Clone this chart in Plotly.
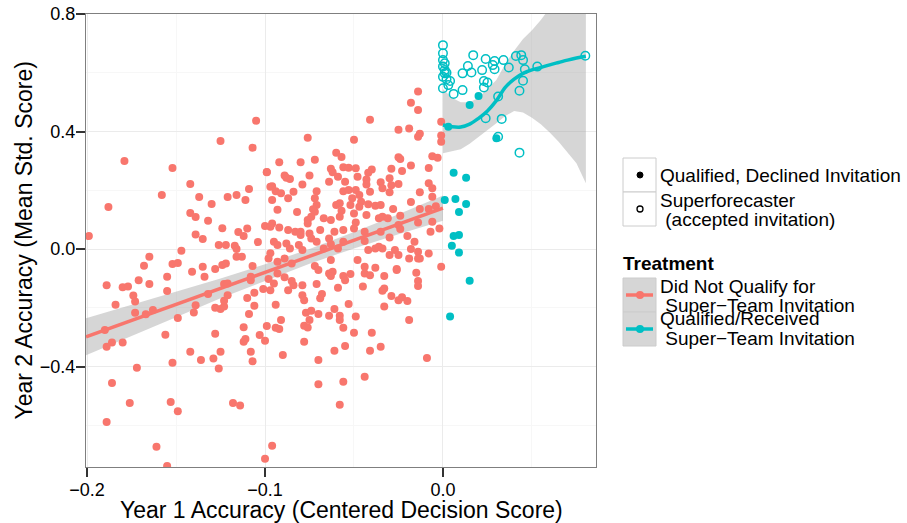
import plotly.graph_objects as go

# ---------------- data ----------------
red_x = [
 -0.105,-0.125,-0.107,-0.179,-0.152,-0.099,-0.142,-0.097,-0.158,-0.137,-0.121,-0.116,-0.109,-0.111,-0.188,-0.130,
 -0.142,-0.139,-0.132,-0.124,-0.115,-0.112,-0.110,-0.100,-0.139,-0.135,-0.199,-0.126,-0.122,-0.117,-0.116,-0.147,
 -0.116,-0.113,-0.165,-0.168,-0.152,-0.149,-0.135,-0.141,-0.128,-0.124,-0.122,-0.107,-0.097,-0.104,
 -0.014,-0.018,-0.014,-0.041,-0.025,-0.019,-0.013,-0.014,-0.001,-0.001,-0.001,-0.076,-0.050,-0.060,-0.057,-0.072,
 -0.092,-0.080,-0.025,-0.024,-0.018,-0.006,-0.003,-0.008,-0.056,-0.053,-0.049,-0.063,-0.062,-0.040,-0.042,-0.029,
 -0.023,-0.099,-0.089,-0.086,-0.088,-0.075,-0.059,-0.055,-0.048,-0.043,-0.043,-0.030,-0.064,-0.079,-0.035,-0.034,
 -0.025,-0.008,-0.096,-0.094,-0.091,-0.096,-0.087,-0.084,-0.071,-0.056,-0.053,-0.049,-0.047,-0.041,-0.030,-0.029,
 -0.013,-0.006,-0.018,-0.072,-0.071,-0.072,-0.060,-0.058,-0.057,-0.051,-0.052,-0.050,-0.046,-0.047,-0.042,-0.038,
 -0.035,-0.093,-0.082,-0.073,-0.074,-0.067,-0.063,-0.058,-0.049,-0.043,-0.036,-0.034,-0.031,-0.028,-0.024,-0.013,
 -0.008,-0.004,-0.076,-0.076,-0.096,-0.097,-0.092,-0.087,-0.083,-0.080,-0.080,-0.075,-0.069,-0.061,-0.056,-0.050,
 -0.044,-0.035,-0.025,-0.024,-0.014,-0.006,-0.020,-0.030,-0.016,-0.002,-0.095,-0.093,-0.088,-0.086,-0.081,-0.079,
 -0.074,-0.071,-0.067,-0.064,-0.063,-0.059,-0.056,-0.044,-0.042,-0.038,-0.036,-0.034,-0.030,-0.027,-0.025,-0.018,
 -0.014,-0.013,-0.008,-0.001,-0.098,-0.093,-0.089,-0.085,-0.072,-0.063,-0.062,-0.048,-0.044,-0.038,-0.026,-0.019,
 -0.014,-0.007,-0.006,
 -0.189,-0.180,-0.177,-0.171,-0.165,-0.155,-0.155,-0.174,-0.173,-0.184,-0.173,-0.167,-0.163,-0.190,-0.186,-0.189,
 -0.180,-0.149,-0.156,-0.172,-0.152,-0.186,-0.176,-0.189,-0.161,-0.155,-0.153,-0.149,-0.142,-0.136,-0.129,-0.125,
 -0.126,-0.128,-0.140,-0.139,-0.134,-0.132,-0.128,-0.125,-0.123,-0.123,-0.121,-0.123,-0.121,-0.110,-0.106,-0.106,
 -0.109,-0.108,-0.108,-0.101,-0.112,-0.112,-0.111,-0.103,-0.100,-0.108,-0.107,-0.118,-0.114,-0.100,-0.096,-0.099,
 -0.058,-0.070,-0.056,-0.044,-0.009,-0.070,-0.090,-0.078,-0.061,-0.055,-0.041,-0.035,-0.040,-0.050,-0.056,-0.094,
 -0.092,-0.091,-0.094,-0.078,-0.076,-0.077,-0.074,-0.070,-0.075,-0.064,-0.061,-0.058,-0.058,-0.049,-0.053,-0.079,
 -0.078,-0.069,-0.068,-0.071,-0.059,-0.045,-0.087,-0.084,-0.085,-0.079,-0.097,-0.098,-0.095,-0.093,-0.089,-0.064,
 -0.063,-0.056,-0.052,-0.055,-0.044,-0.041,-0.033,-0.034,-0.033,-0.029,-0.025,-0.023,-0.020,-0.033,-0.019,-0.015,
 -0.014,-0.014,-0.026,-0.070
]
red_y = [
 0.437,0.368,0.345,0.300,0.276,0.262,0.221,0.212,0.184,0.177,0.177,0.184,0.204,0.167,0.143,0.153,
 0.123,0.109,0.096,0.071,0.058,0.044,0.070,0.078,0.049,0.034,0.044,0.014,0.014,0.011,0.000,-0.006,
 -0.026,-0.026,-0.026,-0.057,-0.051,-0.048,-0.060,-0.077,-0.068,-0.054,-0.049,-0.058,-0.014,0.024,
 0.536,0.498,0.473,0.440,0.406,0.410,0.392,0.382,0.433,0.386,0.365,0.379,0.372,0.328,0.313,0.304,
 0.295,0.295,0.312,0.306,0.284,0.316,0.311,0.276,0.278,0.277,0.275,0.273,0.261,0.271,0.260,0.273,
 0.266,0.261,0.250,0.238,0.243,0.250,0.246,0.229,0.246,0.237,0.220,0.241,0.229,0.220,0.227,0.207,
 0.221,0.224,0.214,0.197,0.190,0.167,0.173,0.195,0.197,0.197,0.201,0.201,0.184,0.195,0.193,0.217,
 0.193,0.207,0.160,0.173,0.150,0.127,0.150,0.156,0.130,0.173,0.150,0.121,0.161,0.144,0.152,0.147,
 0.150,0.134,0.126,0.135,0.110,0.105,0.099,0.110,0.090,0.116,0.105,0.110,0.105,0.136,0.113,0.136,
 0.136,0.146,0.099,0.087,0.087,0.076,0.073,0.065,0.059,0.059,0.048,0.053,0.065,0.059,0.065,0.070,
 0.059,0.059,0.082,0.068,0.090,0.093,0.044,0.039,0.025,0.070,0.025,0.014,0.019,0.002,0.014,-0.003,
 0.036,0.025,0.002,0.036,0.016,0.002,0.025,0.027,-0.003,0.002,0.008,0.002,-0.020,-0.003,-0.020,0.000,
 -0.009,-0.032,-0.015,-0.060,-0.032,-0.043,-0.032,-0.049,-0.058,-0.037,-0.077,-0.037,-0.060,-0.064,-0.068,-0.032,
 -0.032,0.059,0.178,
 -0.123,-0.130,-0.128,-0.106,-0.119,-0.094,-0.143,-0.158,-0.179,-0.190,-0.217,-0.222,-0.208,-0.276,-0.318,-0.333,
 -0.318,-0.235,-0.292,-0.404,-0.387,-0.456,-0.524,-0.589,-0.673,-0.739,-0.521,-0.552,-0.350,-0.378,-0.373,-0.350,
 -0.407,-0.288,-0.216,-0.191,-0.094,-0.153,-0.200,-0.204,-0.196,-0.176,-0.157,-0.119,-0.117,-0.167,-0.149,-0.193,
 -0.221,-0.106,-0.094,-0.136,-0.266,-0.316,-0.306,-0.293,-0.312,-0.350,-0.382,-0.524,-0.533,-0.714,-0.670,-0.262,
 -0.530,-0.460,-0.452,-0.435,-0.371,-0.378,-0.361,-0.316,-0.346,-0.330,-0.346,-0.333,-0.285,-0.285,-0.268,-0.268,
 -0.272,-0.242,-0.190,-0.261,-0.267,-0.217,-0.210,-0.221,-0.242,-0.227,-0.204,-0.227,-0.242,-0.230,-0.187,-0.157,
 -0.174,-0.168,-0.153,-0.119,-0.132,-0.128,-0.140,-0.123,-0.109,-0.123,-0.140,-0.102,-0.117,-0.083,-0.096,-0.083,
 -0.092,-0.092,-0.085,-0.106,-0.083,-0.089,-0.092,-0.142,-0.134,-0.160,-0.174,-0.164,-0.177,-0.196,-0.242,-0.081,
 -0.109,-0.126,-0.071,-0.071
]

cyan_filled_x = [0.003,0.015,0.020,0.030,0.006,0.013,0.001,0.007,0.013,0.009,0.006,0.009,0.005,0.009,0.015,0.004]
cyan_filled_y = [0.416,0.490,0.521,0.377,0.260,0.243,0.167,0.170,0.153,0.126,0.044,0.048,0.011,-0.012,-0.108,-0.230]

cyan_open_x = [0.000,0.000,0.000,0.001,0.000,0.001,0.001,0.002,0.000,0.002,0.004,0.000,0.003,0.006,0.011,0.011,
               0.014,0.016,0.017,0.022,0.024,0.023,0.025,0.023,0.028,0.029,0.029,0.034,0.037,0.041,0.044,0.045,
               0.046,0.045,0.043,0.053,0.080,0.031,0.024,0.033,0.043,0.031]
cyan_open_y = [0.694,0.666,0.643,0.632,0.621,0.609,0.598,0.600,0.586,0.578,0.572,0.547,0.558,0.528,0.541,0.598,
               0.623,0.601,0.660,0.609,0.647,0.572,0.567,0.550,0.626,0.612,0.640,0.643,0.618,0.657,0.660,0.643,
               0.612,0.573,0.539,0.621,0.658,0.519,0.445,0.443,0.328,0.382]

# linear fit (red) and its confidence band
red_fit_x = [-0.2006, 0.0]
red_fit_y = [-0.299, 0.139]
red_band_x = [-0.2006,-0.175,-0.15,-0.125,-0.1,-0.075,-0.05,-0.025,0.0]
red_band_lo = [-0.362,-0.296,-0.232,-0.168,-0.108,-0.050,0.002,0.050,0.096]
red_band_hi = [-0.236,-0.190,-0.146,-0.100,-0.052,0.000,0.058,0.118,0.182]

# loess fit (cyan) and its confidence band
cyan_fit_x = [0.0,0.005,0.01,0.015,0.02,0.025,0.03,0.035,0.04,0.045,0.05,0.055,0.06,0.065,0.07,0.075,0.0803]
cyan_fit_y = [0.422,0.416,0.415,0.425,0.445,0.470,0.505,0.550,0.578,0.598,0.610,0.618,0.627,0.635,0.643,0.650,0.656]
cyan_band_lo = [0.326,0.333,0.340,0.358,0.380,0.405,0.428,0.453,0.470,0.465,0.447,0.425,0.397,0.365,0.330,0.292,0.224]
cyan_band_hi = [0.545,0.515,0.500,0.500,0.515,0.545,0.575,0.630,0.675,0.715,0.745,0.780,0.820,0.870,0.930,1.000,1.080]

x_ticks = [-0.2, -0.1, 0.0]
y_ticks = [-0.4, 0.0, 0.4, 0.8]

RED = "#F8766D"
CYAN = "#00BFC4"
BAND = "rgba(153,153,153,0.4)"
FONT = "Liberation Sans, Arial, sans-serif"

fig = go.Figure()

def band(xs, lo, hi):
    return go.Scatter(x=list(xs) + list(xs)[::-1], y=list(hi) + list(lo)[::-1],
                      fill="toself", fillcolor=BAND, line=dict(width=0),
                      mode="lines", hoverinfo="skip")

fig.add_trace(band(red_band_x, red_band_lo, red_band_hi))
fig.add_trace(band(cyan_fit_x, cyan_band_lo, cyan_band_hi))

fig.add_trace(go.Scatter(x=red_x, y=red_y, mode="markers",
                         marker=dict(color=RED, size=8, line=dict(width=0))))
fig.add_trace(go.Scatter(x=cyan_filled_x, y=cyan_filled_y, mode="markers",
                         marker=dict(color=CYAN, size=8, line=dict(width=0))))
fig.add_trace(go.Scatter(x=cyan_open_x, y=cyan_open_y, mode="markers",
                         marker=dict(color=CYAN, size=8.5, symbol="circle-open", line=dict(width=1.5))))

fig.add_trace(go.Scatter(x=red_fit_x, y=red_fit_y, mode="lines", line=dict(color=RED, width=3.5)))
fig.add_trace(go.Scatter(x=cyan_fit_x, y=cyan_fit_y, mode="lines",
                         line=dict(color=CYAN, width=3.5, shape="spline")))

# plot area geometry in pixels (for legend placement in paper coords)
W, H = 907, 523
L, R, T, B = 86, 596, 14, 467
def fx(px):
    return (px - L) / (R - L)
def fy(py):
    return (B - py) / (B - T)

shapes = []
annotations = []

# shape legend (no title)
for (y0, y1) in [(158, 192), (192, 226)]:
    shapes.append(dict(type="rect", xref="paper", yref="paper", x0=fx(623), x1=fx(656), y0=fy(y1), y1=fy(y0),
                       line=dict(color="#CCCCCC", width=1), fillcolor="white"))
shapes.append(dict(type="circle", xref="paper", yref="paper", x0=fx(637), x1=fx(643), y0=fy(178), y1=fy(172),
                   line=dict(color="black", width=1), fillcolor="black"))
shapes.append(dict(type="circle", xref="paper", yref="paper", x0=fx(637), x1=fx(643), y0=fy(212), y1=fy(206),
                   line=dict(color="black", width=1.3), fillcolor="white"))

# treatment legend
for (y0, y1, col) in [(278, 312, RED), (312, 346, CYAN)]:
    shapes.append(dict(type="rect", xref="paper", yref="paper", x0=fx(623), x1=fx(656), y0=fy(y1), y1=fy(y0),
                       line=dict(color="#CCCCCC", width=1), fillcolor="#D6D6D6"))
    yc = (y0 + y1) / 2
    shapes.append(dict(type="line", xref="paper", yref="paper", x0=fx(626), x1=fx(653), y0=fy(yc), y1=fy(yc),
                       line=dict(color=col, width=3.5)))
    shapes.append(dict(type="circle", xref="paper", yref="paper", x0=fx(636), x1=fx(644), y0=fy(yc + 4), y1=fy(yc - 4),
                       line=dict(color=col, width=0), fillcolor=col))

def txt(px, py, s, size=19, bold=False):
    annotations.append(dict(xref="paper", yref="paper", x=fx(px), y=fy(py), text=(f"<b>{s}</b>" if bold else s),
                            showarrow=False, xanchor="left", yanchor="middle",
                            font=dict(family=FONT, size=size, color="black")))

txt(658, 175, "Qualified, Declined Invitation")
txt(658, 200, "Superforecaster")
txt(658, 219, " (accepted invitation)")
txt(621, 263, "Treatment", bold=True)
txt(658, 286, "Did Not Qualify for")
txt(658, 305, " Super\u2212Team Invitation")
txt(658, 318, "Qualified/Received")
txt(658, 338, " Super\u2212Team Invitation")

# axis titles
annotations.append(dict(xref="paper", yref="paper", x=0.5, y=fy(510), text="Year 1 Accuracy (Centered Decision Score)",
                        showarrow=False, xanchor="center", yanchor="middle",
                        font=dict(family=FONT, size=23, color="black")))
annotations.append(dict(xref="paper", yref="paper", x=fx(23), y=0.5, text="Year 2 Accuracy (Mean Std. Score)",
                        showarrow=False, xanchor="center", yanchor="middle", textangle=-90,
                        font=dict(family=FONT, size=23, color="black")))

axis_common = dict(showgrid=True, gridcolor="#EBEBEB", gridwidth=1,
                   showline=True, linecolor="#7F7F7F", linewidth=1, mirror=True,
                   ticks="outside", ticklen=9, tickwidth=1.5, tickcolor="#333333",
                   ticklabelstandoff=-3,
                   tickfont=dict(family=FONT, size=18, color="black"),
                   tickformat=".1f", zeroline=False, automargin=False,
                   minor=dict(showgrid=True, gridcolor="#F7F7F7", gridwidth=1, ticks=""))

fig.update_layout(
    width=W, height=H,
    margin=dict(l=L, r=W - R, t=T, b=H - B, autoexpand=False),
    paper_bgcolor="white", plot_bgcolor="white",
    showlegend=False,
    font=dict(family=FONT),
    xaxis=dict(range=[-0.2006, 0.086], tickvals=x_ticks, **axis_common),
    yaxis=dict(range=[-0.742, 0.8], tickvals=y_ticks, **axis_common),
    shapes=shapes,
    annotations=annotations,
)
fig.update_xaxes(minor=dict(tickvals=[-0.15, -0.05, 0.05]))
fig.update_yaxes(minor=dict(tickvals=[-0.6, -0.2, 0.2, 0.6]))

fig.write_html("out.html", config={"displayModeBar": False},
               post_script="document.body.style.margin='0';document.body.style.overflow='hidden';")
